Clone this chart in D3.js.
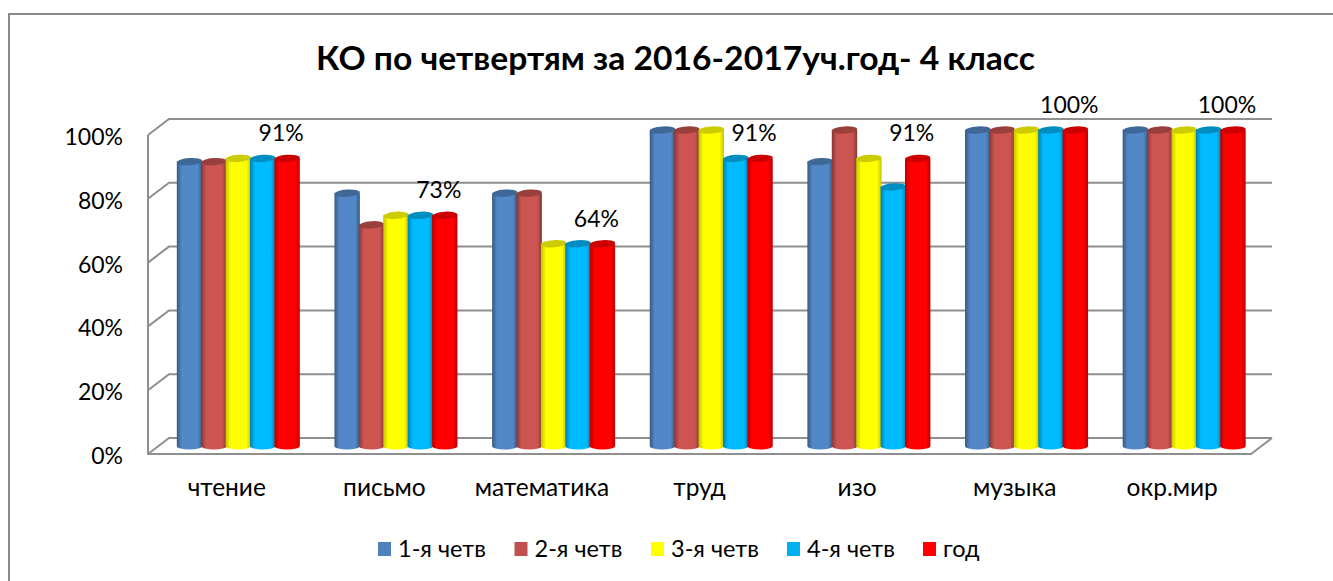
<!DOCTYPE html>
<html>
<head>
<meta charset="utf-8">
<script src="https://cdn.jsdelivr.net/npm/d3@7"></script>
<style>
  html, body { margin: 0; padding: 0; background: #fff; overflow: hidden; }
  text { font-family: Lato, "Open Sans", "Noto Sans", sans-serif; fill: #000; }
</style>
</head>
<body>
<div id="main"></div>
<script>
var categories = ['чтение', 'письмо', 'математика', 'труд', 'изо', 'музыка', 'окр.мир']
var series_names = ['1-я четв', '2-я четв', '3-я четв', '4-я четв', 'год']
var q1 = [90, 80, 80, 100, 90, 100, 100]
var q2 = [90, 70, 80, 100, 100, 100, 100]
var q3 = [91, 73, 64, 100, 91, 100, 100]
var q4 = [91, 73, 64, 91, 82, 100, 100]
var year = [91, 73, 64, 91, 91, 100, 100]
var series_values = [q1, q2, q3, q4, year]
var y_ticks = [0, 20, 40, 60, 80, 100]
var title_text = 'КО по четвертям за 2016-2017уч.год- 4 класс'

// colours: [legend/main, dark edge, light middle, cap]
var colors = [
  ['#4f81bd', '#37597f', '#5288c8', '#3f6797'],
  ['#c0504d', '#853836', '#cc5552', '#99403d'],
  ['#ffff00', '#c4c400', '#ffff00', '#cccc00'],
  ['#00b0f0', '#0080ae', '#00bbff', '#008dc0'],
  ['#ff0000', '#bb0000', '#ff0000', '#cc0000']
]

var w = 1333
var h = 581
var svg = d3.select('div#main').append('svg')
  .attr('viewBox', [0, 0, w, h].join(' '))
  .attr('width', w)
  .attr('height', h)
  .style('display', 'block')

// chart frame, only top and left edges are inside the picture
svg.append('path')
  .attr('d', d3.line()([[9, h], [9, 14], [w, 14]]))
  .attr('fill', 'none')
  .attr('stroke', '#8c8c8c')
  .attr('stroke-width', 2)

svg.append('text')
  .text(title_text)
  .attr('x', 675.5)
  .attr('y', 70)
  .attr('text-anchor', 'middle')
  .attr('textLength', 719)
  .attr('lengthAdjust', 'spacingAndGlyphs')
  .style('font-size', '33px')
  .style('font-weight', 'bold')

// fake 3d: the back wall sits up and right of the front plane
var depth_x = 21
var depth_y = -16

var scale_y_front = d3.scaleLinear().domain([0, 100]).range([454, 135])
var scale_y_bar = d3.scaleLinear().domain([0, 100]).range([446, 130])
var scale_x_front = d3.scaleBand().domain(categories).range([148, 1251])
var scale_x_group = d3.scaleBand().domain(categories).range([159.5, 1263])
  .paddingInner(0.226).paddingOuter(0.113)
var scale_x_bar = d3.scaleBand().domain(d3.range(series_names.length)).range([0, scale_x_group.bandwidth()])

var grid_color = '#8f8f8f'
var walls = svg.append('g').attr('fill', 'none').attr('stroke', grid_color).attr('stroke-width', 2)

y_ticks.forEach(function (t) {
  var y = scale_y_front(t)
  walls.append('path')
    .attr('d', d3.line()([[148, y], [148 + depth_x, y + depth_y], [1272, y + depth_y]]))
})
walls.append('path')
  .attr('d', d3.line()([[148, scale_y_front(100)], [148, scale_y_front(0)], [1251, scale_y_front(0)], [1272, scale_y_front(0) + depth_y]]))

// y axis labels
svg.append('g').selectAll('text').data(y_ticks).enter().append('text')
  .text(function (d) { return d + '%' })
  .attr('x', 123)
  .attr('y', function (d) { return scale_y_front(d) + 10 })
  .attr('text-anchor', 'end')
  .style('font-size', '23px')

// one horizontal gradient per series, gives the cylinder shading
var defs = svg.append('defs')
colors.forEach(function (c, i) {
  var g = defs.append('linearGradient').attr('id', 'cyl' + i)
  g.append('stop').attr('offset', '0%').attr('stop-color', c[1])
  g.append('stop').attr('offset', '20%').attr('stop-color', c[2])
  g.append('stop').attr('offset', '82%').attr('stop-color', c[2])
  g.append('stop').attr('offset', '100%').attr('stop-color', c[1])
})

var ry = 3.6
categories.forEach(function (cat, ci) {
  var g = svg.append('g').attr('transform', 'translate(' + scale_x_group(cat) + ',0)')
  series_values.forEach(function (vals, si) {
    var bw = scale_x_bar.bandwidth()
    var x = scale_x_bar(si)
    var top = scale_y_bar(vals[ci])
    var base = scale_y_bar(0)
    var rx = bw / 2 + 0.5
    var cx = x + bw / 2
    g.append('path')
      .attr('d', ['M', cx - rx, top, 'L', cx - rx, base, 'A', rx, ry, 0, 0, 0, cx + rx, base, 'L', cx + rx, top, 'Z'].join(' '))
      .attr('fill', 'url(#cyl' + si + ')')
    g.append('ellipse')
      .attr('cx', cx).attr('cy', top)
      .attr('rx', rx).attr('ry', ry)
      .attr('transform', 'rotate(-4 ' + cx + ' ' + top + ')')
      .attr('fill', colors[si][3])
  })
})

// data labels come from the year series only
svg.append('g').selectAll('text').data(year).enter().append('text')
  .text(function (d) { return d + '%' })
  .attr('x', function (d, i) {
    return scale_x_group(categories[i]) + scale_x_bar(4) + scale_x_bar.bandwidth() / 2 - 6
  })
  .attr('y', function (d) { return scale_y_bar(d) - 17 })
  .attr('text-anchor', 'middle')
  .style('font-size', '23px')

// category labels
svg.append('g').selectAll('text').data(categories).enter().append('text')
  .text(function (d) { return d })
  .attr('x', function (d) { return scale_x_front(d) + scale_x_front.bandwidth() / 2 })
  .attr('y', 496)
  .attr('text-anchor', 'middle')
  .style('font-size', '24.5px')

// legend
var legend_x = d3.scaleOrdinal().domain(series_names).range([378, 514.5, 651, 787, 923])
var legend = svg.append('g').selectAll('g').data(series_names).enter().append('g')
  .attr('transform', function (d) { return 'translate(' + legend_x(d) + ',542)' })
legend.append('rect')
  .attr('width', 13).attr('height', 14)
  .attr('fill', function (d, i) { return colors[i][0] })
legend.append('text')
  .text(function (d) { return d })
  .attr('x', 20)
  .attr('y', 14.5)
  .style('font-size', '23.5px')
</script>
</body>
</html>
